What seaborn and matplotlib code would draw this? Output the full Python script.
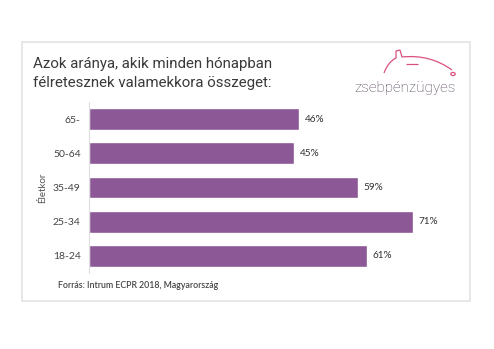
import matplotlib
matplotlib.use("Agg")
import matplotlib.pyplot as plt
import seaborn as sns
import pandas as pd
from matplotlib.patches import Rectangle, Circle
from matplotlib.path import Path
from matplotlib.patches import PathPatch

categories = ["65-", "50-64", "35-49", "25-34", "18-24"]
values = [46, 45, 59, 71, 61]
value_labels = ["46%", "45%", "59%", "71%", "61%"]

title = "Azok aránya, akik minden hónapban\nfélretesznek valamekkora összeget:"
ylabel = "Életkor"
source = "Forrás: Intrum ECPR 2018, Magyarország"
logo = "zsebpénzügyes"

sns.set_theme(style="white")
plt.rcParams['font.family'] = ['Lato', 'DejaVu Sans']

W, H = 494, 349
fig = plt.figure(figsize=(W / 100, H / 100), dpi=100)
fig.patch.set_facecolor("white")

def fx(px):
    return px / W

def fy(py):
    return 1 - py / H

# card border
fig.patches.append(Rectangle((fx(22), fy(301)), fx(470) - fx(22), fy(42) - fy(301),
                             transform=fig.transFigure, fill=False,
                             edgecolor="#e3e3e3", linewidth=1.2))

ax = fig.add_axes([fx(89), fy(273), fx(460) - fx(89), (273 - 102) / H])
df = pd.DataFrame({"cat": categories, "val": values})
sns.barplot(data=df, x="val", y="cat", color="#8c5896", saturation=1,
            width=0.64, ax=ax, orient="h")
ax.set_xlim(0, 81.3)
ax.set_ylim(4.5, -0.5)
ax.set_xlabel("")
ax.set_ylabel(ylabel, fontsize=7, color="#555555", labelpad=4)
ax.set_xticks([])
ax.tick_params(axis="y", length=0, labelsize=7.5, labelcolor="#444444", pad=6)
for s in ["top", "right", "bottom"]:
    ax.spines[s].set_visible(False)
ax.spines["left"].set_color("#dddddd")
ax.spines["left"].set_linewidth(0.8)

for i, (v, lab) in enumerate(zip(values, value_labels)):
    ax.annotate(lab, (v, i), xytext=(4, 0), textcoords="offset points",
                va="center", ha="left", fontsize=7.2, color="#333333")

fig.text(fx(33), fy(73.5), title, fontsize=10.8, color="#3a3a3a",
         fontfamily=["Roboto", "DejaVu Sans"], fontweight="normal",
         va="center", linespacing=1.5, ha="left")
fig.text(fx(58), fy(285), source, fontsize=6.3, color="#444444",
         va="center", ha="left", fontweight="semibold")

# logo
fig.text(fx(405), fy(88), logo, fontsize=11, color="#4f3d55",
         fontfamily=["Roboto", "DejaVu Sans"], fontweight="light",
         va="center", ha="center")
pink = "#d9507f"
def P(x, y):
    return (fx(x), fy(y))
verts = [P(384, 73), P(388, 62), P(396, 58), P(396, 51), P(400, 50), P(402, 57),
         P(430, 54), P(452, 70)]
codes = [Path.MOVETO, Path.CURVE3, Path.CURVE3, Path.LINETO, Path.LINETO, Path.LINETO,
         Path.CURVE3, Path.CURVE3]
fig.patches.append(PathPatch(Path(verts, codes), transform=fig.transFigure,
                             fill=False, edgecolor=pink, linewidth=0.9))
fig.patches.append(PathPatch(Path([P(406, 64), P(418, 64)]), transform=fig.transFigure,
                             fill=False, edgecolor=pink, linewidth=0.9))
fig.patches.append(Circle(P(453, 74), 2.2 / W, transform=fig.transFigure,
                          fill=False, edgecolor=pink, linewidth=0.9))

fig.savefig("out.png", dpi=100, facecolor="white")
